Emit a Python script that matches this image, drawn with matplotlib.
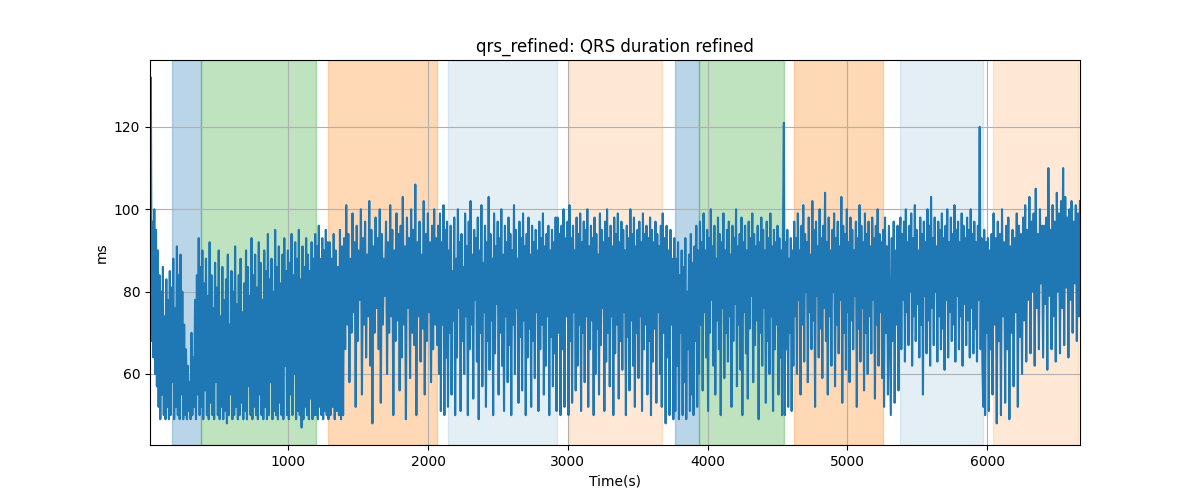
import numpy as np
import matplotlib
matplotlib.use("Agg")
import matplotlib.pyplot as plt

# ---- data: segments of the QRS series (start s, end s) and values (ms) ----
seg_bounds = [
    (10, 170), (170, 378), (378, 1199), (1199, 1287), (1287, 2066),
    (2066, 2142), (2142, 2919), (2919, 3005), (3005, 3672), (3672, 3769),
    (3769, 3939), (3939, 4546), (4546, 4620), (4620, 5256), (5256, 5380),
    (5380, 5973), (5973, 6039), (6039, 6665),
]

seg_a = [92, 132, 68, 97, 64, 100, 60, 95, 57, 90, 52, 84, 49, 80, 55, 86, 50, 74, 49, 83,
         52, 78, 49, 85, 50, 81]
seg_b = [58, 88, 49, 76, 52, 91, 50, 84, 49, 89, 55, 80, 49, 72, 50, 66, 49, 62, 51, 58,
         49, 70, 50, 64, 52, 78, 49, 84, 55, 93, 50, 86]
seg_c = [52, 90, 49, 82, 56, 88, 50, 79, 49, 92, 53, 84, 50, 76, 49, 87, 58, 81, 50, 90,
         49, 74, 52, 86, 49, 78, 51, 83, 48, 89, 50, 72, 55, 85, 49, 80, 50, 91, 52, 77,
         49, 84, 50, 88, 53, 75, 49, 82, 51, 90, 49, 86, 57, 79, 50, 93, 49, 84, 52, 89,
         50, 81, 49, 92, 55, 87, 50, 78, 49, 90, 52, 85, 49, 94, 50, 83, 58, 88, 49, 80,
         51, 95, 50, 86, 49, 91, 53, 82, 50, 89, 49, 93, 62, 85, 50, 90, 49, 87, 55, 94,
         50, 84, 60, 92, 49, 88, 51, 95, 50, 83, 47, 91, 49, 86, 52, 93, 50, 89, 49, 85,
         54, 92, 49, 88, 50, 94]
seg_d = [50, 91, 49, 96, 52, 88, 50, 93, 49, 90, 51, 95, 50, 92]
seg_e = [49, 92, 50, 88, 52, 94, 49, 90, 51, 86, 50, 95, 49, 91, 50, 93,
         66, 101, 72, 94, 58, 88, 70, 99, 75, 92, 52, 96, 68, 90, 78, 100, 55, 93, 72, 97,
         64, 89, 74, 102, 62, 95, 48, 91, 70, 98, 76, 93, 66, 100, 53, 94, 72, 88, 79, 97,
         60, 92, 70, 101, 74, 95, 50, 90, 68, 99, 73, 94, 56, 96, 64, 103, 72, 91, 49, 98,
         76, 93, 59, 100, 70, 95, 67, 106, 50, 92, 74, 97, 63, 89, 71, 102, 55, 94, 68, 99,
         75, 92, 58, 96, 66, 100, 72, 93]
seg_f = [67, 96, 60, 99, 51, 92, 72, 101, 50, 95, 64, 97]
seg_g = [52, 90, 70, 96, 55, 85, 73, 98, 50, 88, 64, 100, 76, 92, 51, 94, 68, 86, 60, 99,
         74, 91, 50, 97, 66, 102, 72, 89, 54, 95, 78, 93, 63, 98, 49, 90, 70, 101, 57, 87,
         75, 96, 52, 92, 68, 103, 61, 94, 73, 88, 50, 99, 65, 91, 77, 97, 55, 93, 70, 100,
         62, 89, 51, 96, 74, 92, 58, 98, 67, 94, 50, 90, 72, 101, 60, 95, 76, 88, 53, 97,
         69, 93, 56, 99, 73, 91, 50, 94, 64, 98, 71, 89, 52, 96, 68, 92, 59, 95, 75, 90,
         51, 97, 66, 93, 72, 99, 55, 91, 62, 94, 74, 96, 50, 90, 69, 95, 57, 92, 65, 98]
seg_h = [51, 98, 70, 94, 50, 96, 66, 100, 52, 93, 74, 97]
seg_i = [50, 101, 68, 93, 53, 96, 75, 90, 56, 98, 62, 94, 72, 99, 51, 92, 70, 97, 58, 95,
         74, 100, 52, 91, 66, 96, 73, 93, 50, 98, 60, 94, 71, 89, 55, 99, 67, 95, 76, 92,
         51, 97, 63, 100, 70, 93, 57, 96, 74, 91, 50, 98, 65, 94, 72, 99, 54, 92, 68, 97,
         61, 95, 75, 90, 50, 96, 69, 93, 56, 100, 73, 94, 62, 98, 52, 91, 70, 95, 59, 97,
         74, 92, 51, 99, 66, 94, 72, 96, 55, 93, 68, 98, 50, 95, 63, 92, 71, 97, 53, 94,
         75, 91, 60, 96]
seg_j = [52, 99, 70, 93, 48, 96, 64, 90, 50, 95, 72, 88, 49, 93]
seg_k = [51, 88, 62, 92, 49, 84, 70, 90, 50, 86, 58, 93, 49, 80, 66, 89, 51, 94, 55, 87,
         50, 91, 68, 96, 52, 90]
seg_l = [60, 97, 72, 92, 56, 99, 75, 90, 64, 95, 51, 93, 70, 100, 78, 91, 62, 96, 55, 88,
         73, 98, 66, 94, 50, 92, 76, 99, 59, 90, 70, 95, 63, 97, 74, 89, 52, 96, 68, 93,
         77, 100, 57, 91, 72, 94, 61, 98, 50, 92, 75, 96, 65, 90, 54, 97, 71, 93, 79, 99,
         58, 94, 67, 91, 73, 96, 49, 92, 70, 98, 62, 95, 76, 90, 53, 97, 68, 93, 60, 99,
         74, 91, 51, 95, 66, 92, 72, 96, 55, 93, 64, 90, 50, 95]
seg_m = [121, 50, 92, 66, 95, 52, 88, 70, 93, 51, 90, 62]
seg_n = [97, 74, 93, 60, 99, 78, 90, 55, 96, 72, 101, 63, 94, 80, 92, 58, 98, 75, 89, 66,
         102, 73, 95, 52, 97, 79, 91, 64, 100, 71, 93, 59, 96, 76, 104, 68, 92, 55, 98, 74,
         90, 62, 95, 80, 99, 57, 93, 72, 97, 65, 91, 78, 103, 53, 96, 70, 94, 61, 100, 75,
         92, 58, 98, 73, 95, 66, 90, 79, 97, 52, 93, 71, 101, 63, 96, 76, 92, 56, 99, 70,
         94, 60, 97, 74, 91, 65, 98, 78, 93, 54, 96, 72, 100, 62, 94, 75, 92, 59]
seg_o = [95, 52, 98, 70, 91, 55, 96, 74, 50, 93, 68, 97, 53, 90, 72, 96, 56, 92]
seg_p = [98, 66, 94, 78, 97, 63, 100, 75, 92, 67, 96, 80, 99, 62, 93, 74, 101, 68, 95, 77,
         90, 64, 98, 72, 94, 55, 97, 79, 92, 65, 100, 73, 96, 62, 103, 76, 93, 67, 98, 80,
         91, 63, 97, 74, 95, 66, 99, 71, 93, 61, 96, 78, 100, 64, 92, 75, 98, 68, 94, 72,
         101, 63, 95, 79, 97, 66, 92, 74, 99, 62, 96, 77, 93, 67, 98, 73, 95, 64, 100, 76,
         94, 65, 97, 71, 92, 63, 96, 78, 120, 66, 93, 62]
seg_q = [52, 95, 50, 92, 70, 93, 51, 90, 66, 94]
seg_r = [55, 99, 72, 93, 48, 97, 68, 94, 50, 100, 74, 92, 53, 96, 66, 98, 49, 91, 70, 95,
         57, 93, 75, 99, 52, 96, 69, 94, 60, 98, 73, 101, 63, 95,
         78, 103, 65, 97, 80, 99, 62, 105, 76, 94, 66, 100, 82, 96, 64, 96, 77, 98, 61, 110,
         79, 95, 66, 101, 74, 97, 63, 104, 80, 99, 65, 102, 76, 110, 67, 103, 81, 98, 64, 100,
         78, 102, 70, 97, 82, 101, 68, 99, 74, 102]

segments = [seg_a, seg_b, seg_c, seg_d, seg_e, seg_f, seg_g, seg_h, seg_i, seg_j,
            seg_k, seg_l, seg_m, seg_n, seg_o, seg_p, seg_q, seg_r]

# ---- shaded stage spans ----
span_starts = [168, 378, 1287, 2142, 3005, 3769, 3939, 4620, 5380, 6039]
span_ends = [378, 1199, 2066, 2919, 3672, 3939, 4546, 5256, 5973, 6651]
span_colors = ["tab:blue", "tab:green", "tab:orange", "tab:blue", "tab:orange",
               "tab:blue", "tab:green", "tab:orange", "tab:blue", "tab:orange"]
span_alphas = [0.3, 0.3, 0.3, 0.12, 0.17, 0.3, 0.3, 0.3, 0.12, 0.17]

# ---- build time axis per segment ----
times = []
values = []
for k, ((s, e), vals) in enumerate(zip(seg_bounds, segments)):
    last = k == len(segments) - 1
    times.append(np.linspace(s, e, len(vals), endpoint=last))
    values.extend(vals)
times = np.concatenate(times)
values = np.array(values, dtype=float)

fig, ax = plt.subplots(figsize=(12, 5), dpi=100)
for s, e, c, a in zip(span_starts, span_ends, span_colors, span_alphas):
    ax.axvspan(s, e, color=c, alpha=a)
ax.plot(times, values, color="tab:blue", linewidth=1.5)
ax.set_xlim(times.min(), times.max())
ax.set_title("qrs_refined: QRS duration refined")
ax.set_xlabel("Time(s)")
ax.set_ylabel("ms")
ax.grid(True)
fig.savefig("out.png", dpi=100)
